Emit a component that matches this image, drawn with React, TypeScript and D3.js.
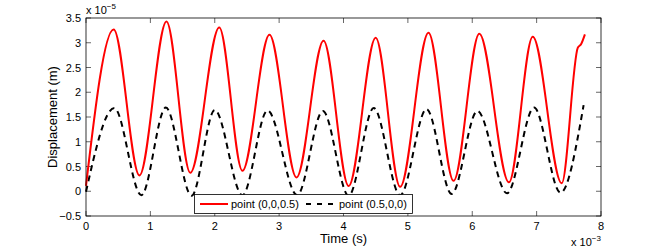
import { useRef, useEffect } from 'react'
import * as d3 from 'd3'

// time in 1e-3 s, displacement in 1e-5 m
const redT = [0, 0.43, 0.83, 1.25, 1.62, 2.07, 2.43, 2.85, 3.27, 3.69, 4.08, 4.5, 4.88, 5.32, 5.71, 6.11, 6.57, 6.94, 7.39, 7.64, 7.69, 7.75]
const redV = [0.11, 3.27, 0.32, 3.43, 0.375, 3.31, 0.415, 3.16, 0.28, 3.04, 0.106, 3.1, 0.09, 3.2, 0.21, 3.18, 0.18, 3.12, 0.16, 2.9, 2.97, 3.17]
const blackT = [0, 0.44, 0.86, 1.24, 1.64, 2.0, 2.43, 2.82, 3.28, 3.68, 4.08, 4.47, 4.88, 5.29, 5.68, 6.08, 6.54, 6.96, 7.37, 7.73]
const blackV = [-0.01, 1.68, -0.08, 1.69, -0.09, 1.64, -0.08, 1.63, -0.08, 1.62, -0.09, 1.68, -0.08, 1.66, -0.055, 1.62, -0.04, 1.69, -0.03, 1.74]
const xTicks = [0, 1, 2, 3, 4, 5, 6, 7, 8]
const yTicks = [-0.5, 0, 0.5, 1, 1.5, 2, 2.5, 3, 3.5]
const seriesNames = ['point (0,0,0.5)', 'point (0.5,0,0)']

function App() {
  const ref = useRef<SVGSVGElement>(null)

  useEffect(() => {
    const svg = d3.select(ref.current)
    svg.selectAll('*').remove()
    const left = 86, right = 601, top = 18, bottom = 216
    const font = 'Liberation Sans, Arial, sans-serif'

    const x = d3.scaleLinear().domain([0, 8]).range([left, right])
    const y = d3.scaleLinear().domain([-0.5, 3.5]).range([bottom, top])

    // ticks inward on all sides
    const g = svg.append('g')
    xTicks.forEach(t => {
      g.append('line').attr('x1', x(t)).attr('x2', x(t)).attr('y1', bottom).attr('y2', bottom - 5).attr('stroke', '#000').attr('stroke-width', 0.6)
      g.append('line').attr('x1', x(t)).attr('x2', x(t)).attr('y1', top).attr('y2', top + 5).attr('stroke', '#000').attr('stroke-width', 0.6)
      g.append('text').attr('x', x(t)).attr('y', bottom + 14).attr('text-anchor', 'middle')
        .style('font', `11px ${font}`).text(t)
    })
    yTicks.forEach(t => {
      g.append('line').attr('x1', left).attr('x2', left + 5).attr('y1', y(t)).attr('y2', y(t)).attr('stroke', '#000').attr('stroke-width', 0.6)
      g.append('line').attr('x1', right).attr('x2', right - 5).attr('y1', y(t)).attr('y2', y(t)).attr('stroke', '#000').attr('stroke-width', 0.6)
      g.append('text').attr('x', left - 5).attr('y', y(t) + 4).attr('text-anchor', 'end')
        .style('font', `11px ${font}`).text(t < 0 ? '\u22120.5' : t)
    })

    const line = d3.line<[number, number]>().x(d => x(d[0])).y(d => y(d[1])).curve(d3.curveMonotoneX)
    const red = redT.map((t, i) => [t, redV[i]] as [number, number])
    const black = blackT.map((t, i) => [t, blackV[i]] as [number, number])

    svg.append('path').attr('d', line(black)).attr('fill', 'none').attr('stroke', '#000')
      .attr('stroke-width', 2).attr('stroke-dasharray', '6,4.5')
    svg.append('path').attr('d', line(red)).attr('fill', 'none').attr('stroke', '#f00')
      .attr('stroke-width', 2)

    svg.append('rect').attr('x', left).attr('y', top).attr('width', right - left).attr('height', bottom - top)
      .attr('fill', 'none').attr('stroke', '#000').attr('stroke-width', 0.8)

    // exponent labels
    const e1 = svg.append('text').attr('x', left).attr('y', 14).style('font', `11px ${font}`)
    e1.append('tspan').text('x 10')
    e1.append('tspan').attr('dy', -5).style('font-size', '8px').text('\u22125')
    const e2 = svg.append('text').attr('x', 571).attr('y', 246).style('font', `11px ${font}`)
    e2.append('tspan').text('x 10')
    e2.append('tspan').attr('dy', -5).style('font-size', '8px').text('\u22123')

    svg.append('text').attr('x', (left + right) / 2).attr('y', 243).attr('text-anchor', 'middle')
      .style('font', `13px ${font}`).text('Time (s)')
    svg.append('text').attr('transform', `translate(57,${(top + bottom) / 2}) rotate(-90)`).attr('text-anchor', 'middle')
      .style('font', `13px ${font}`).text('Displacement (m)')

    // legend
    const lg = svg.append('g')
    lg.append('rect').attr('x', 194.5).attr('y', 194.5).attr('width', 218).attr('height', 19)
      .attr('fill', '#fff').attr('stroke', '#000').attr('stroke-width', 0.8)
    lg.append('line').attr('x1', 200).attr('x2', 228).attr('y1', 204).attr('y2', 204).attr('stroke', '#f00').attr('stroke-width', 2)
    lg.append('text').attr('x', 231).attr('y', 208).style('font', `11px ${font}`).text(seriesNames[0])
    lg.append('line').attr('x1', 306).attr('x2', 336).attr('y1', 204).attr('y2', 204).attr('stroke', '#000')
      .attr('stroke-width', 2).attr('stroke-dasharray', '5,6')
    lg.append('text').attr('x', 339).attr('y', 208).style('font', `11px ${font}`).text(seriesNames[1])
  }, [])

  return (
    <div>
      <svg ref={ref} width={664} height={249} style={{ position: 'absolute', left: 0, top: 0, background: '#fff' }} />
    </div>
  )
}

export default App
